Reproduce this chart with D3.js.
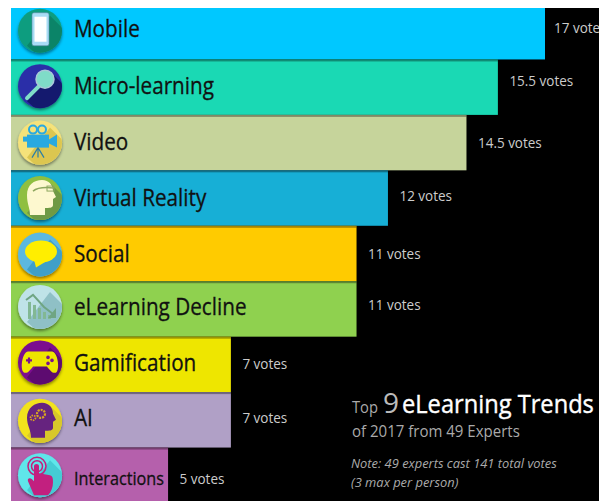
<!DOCTYPE html>
<html>
<head>
<meta charset="utf-8">
<script src="https://cdn.jsdelivr.net/npm/d3@7"></script>
<style>
html, body { margin: 0; padding: 0; background: #fff; overflow: hidden; }
svg { display: block; }
text { font-family: "Open Sans", "Noto Sans", sans-serif; }
</style>
</head>
<body>
<script>
var categories = ["Mobile", "Micro-learning", "Video", "Virtual Reality", "Social", "eLearning Decline", "Gamification", "AI", "Interactions"];
var votes = [17, 15.5, 14.5, 12, 11, 11, 7, 7, 5];
var voteLabels = ["17 votes", "15.5 votes", "14.5 votes", "12 votes", "11 votes", "11 votes", "7 votes", "7 votes", "5 votes"];
var barColors = ["#00c8ff", "#1ad9b4", "#c6d49b", "#17afd6", "#ffcb00", "#8fd14f", "#eee600", "#b0a0c6", "#b560ac"];
var circleColors = ["#0f9d7f", "#2b2fa8", "#f5e27a", "#8fbf3f", "#5cb8e0", "#bfe3e8", "#7b0f8f", "#f2e21a", "#5fe6ea"];
var shadowColors = ["#0b8468", "#14196e", "#dcc650", "#6f9a45", "#3f9fc8", "#8fc0c6", "#5d0b70", "#d8c82a", "#45ccd4"];

// the rows of the original are not quite even
var nameNudge = [-3, -1, -1, 0, 0, -2, -1, -2, 3];
var voteNudge = [-4, -6, 0, -2, 0, -4, -1, -2, 3];
var iconNudge = [-1, -1, 0, 0, 1, -2, -2, 1, 0];

var width = 599, height = 501;
var left = 11, top_ = 8;
var squeeze = 0.9;

var x = d3.scaleLinear().domain([0, 17]).range([left, 545]);
var y = d3.scaleBand().domain(categories).range([4, 503]);
var color = d3.scaleOrdinal().domain(categories).range(barColors);

var svg = d3.select("body").append("svg")
    .attr("width", width)
    .attr("height", height);

var defs = svg.append("defs");

defs.append("filter").attr("id", "iconShadow")
    .attr("x", "-30%").attr("y", "-30%").attr("width", "160%").attr("height", "160%")
    .append("feDropShadow")
    .attr("dx", 0).attr("dy", 2).attr("stdDeviation", 1.5)
    .attr("flood-color", "#000").attr("flood-opacity", 0.45);

defs.append("clipPath").attr("id", "iconClip")
    .append("circle").attr("r", 22);

defs.append("clipPath").attr("id", "plotClip")
    .append("rect").attr("x", left).attr("y", top_).attr("width", width - left).attr("height", height - top_);

var plot = svg.append("g").attr("clip-path", "url(#plotClip)");

plot.append("rect")
    .attr("x", left).attr("y", top_)
    .attr("width", width - left).attr("height", height - top_)
    .attr("fill", "#000");

var rows = plot.selectAll(".row")
    .data(categories)
    .enter().append("g")
    .attr("class", "row");

rows.append("rect")
    .attr("x", left)
    .attr("y", function(d){ return y(d); })
    .attr("width", function(d, i){ return x(votes[i]) - left; })
    .attr("height", y.bandwidth())
    .attr("fill", function(d){ return color(d); });

// dark line left by the row above
rows.filter(function(d, i){ return i > 0; }).append("rect")
    .attr("x", left)
    .attr("y", function(d){ return y(d); })
    .attr("width", function(d, i){ return x(votes[i + 1]) - left; })
    .attr("height", 2)
    .attr("fill", "#000")
    .attr("opacity", 0.35);

rows.append("text")
    .attr("transform", function(d, i){
        return "translate(74," + (y(d) + y.bandwidth() / 2 + nameNudge[i]) + ") scale(" + squeeze + ",1)";
    })
    .attr("dy", "0.35em")
    .attr("font-size", function(d){ return d == "Interactions" ? 18 : 23; })
    .attr("fill", "#111")
    .attr("stroke", "#111")
    .attr("stroke-width", 0.3)
    .text(function(d){ return d; });

rows.append("text")
    .attr("transform", function(d, i){
        var gap = i == 0 ? 9 : 11.5;
        return "translate(" + (x(votes[i]) + gap) + "," + (y(d) + y.bandwidth() / 2 + voteNudge[i]) + ") scale(" + squeeze + ",1)";
    })
    .attr("dy", "0.35em")
    .attr("font-size", 15)
    .attr("fill", "#ccc")
    .text(function(d, i){ return voteLabels[i]; });

var iconDraw = [iconMobile, iconSearch, iconCamera, iconHead, iconBubble, iconDecline, iconPad, iconBrain, iconHand];

var icons = rows.append("g")
    .attr("transform", function(d, i){ return "translate(40," + (y(d) + y.bandwidth() / 2 + iconNudge[i]) + ")"; });

icons.each(function(d, i){
    var g = d3.select(this);
    g.append("circle").attr("r", 22).attr("fill", circleColors[i]).attr("filter", "url(#iconShadow)");
    g.append("path")
        .attr("clip-path", "url(#iconClip)")
        .attr("d", "M-13,15L10,-15L40,15L15,40Z")
        .attr("fill", shadowColors[i]);
    iconDraw[i](g);
});

function iconMobile(g){
    g.append("rect").attr("x", -8).attr("y", -18).attr("width", 17).attr("height", 33).attr("rx", 2).attr("fill", "#a8dcf5").attr("stroke", "#5a8ca5").attr("stroke-width", 0.6);
    g.append("rect").attr("x", -5.5).attr("y", -14).attr("width", 12).attr("height", 25).attr("fill", "#fff");
}

function iconSearch(g){
    g.append("line").attr("x1", -13).attr("y1", 12).attr("x2", 0).attr("y2", -1).attr("stroke", "#7fdcc8").attr("stroke-width", 4).attr("stroke-linecap", "round");
    g.append("circle").attr("cx", 5).attr("cy", -7).attr("r", 9).attr("fill", "#7fdcc8").attr("stroke", "#a9c8d8").attr("stroke-width", 1.5);
}

function iconCamera(g){
    g.append("circle").attr("cx", -7).attr("cy", -13).attr("r", 4).attr("fill", "none").attr("stroke", "#29a9e0").attr("stroke-width", 2);
    g.append("circle").attr("cx", 2).attr("cy", -13).attr("r", 4).attr("fill", "none").attr("stroke", "#29a9e0").attr("stroke-width", 2);
    g.append("rect").attr("x", -13).attr("y", -8).attr("width", 22).attr("height", 13).attr("fill", "#29a9e0");
    g.append("path").attr("d", "M9,-3L17,-8V5L9,1Z").attr("fill", "#29a9e0");
    g.append("path").attr("d", "M-17,-6H-13V-1H-17Z").attr("fill", "#29a9e0");
    g.append("path").attr("d", "M-2,5L-8,15M-2,5V15M-2,5L4,15").attr("stroke", "#2a7fa8").attr("stroke-width", 1.2).attr("fill", "none");
}

function iconHead(g){
    g.append("path")
        .attr("d", "M-10,17C-10,10 -13,6 -13,-3C-13,-13 -6,-18 2,-18C9,-18 13,-13 13,-7L16,-1L13,1V7C13,10 9,10 5,10V17Z")
        .attr("fill", "#fdf8cf");
    g.append("path").attr("d", "M-7,-7C-2,-11 6,-11 14,-10").attr("stroke", "#8fa860").attr("stroke-width", 1.5).attr("fill", "none");
    g.append("rect").attr("x", 7).attr("y", -12).attr("width", 7).attr("height", 5).attr("fill", "none").attr("stroke", "#8fa860").attr("stroke-width", 1);
}

function iconBubble(g){
    g.append("ellipse").attr("cx", 1).attr("cy", -3).attr("rx", 16).attr("ry", 11).attr("fill", "#ffee00");
    g.append("path").attr("d", "M-6,5L-4,13L6,7Z").attr("fill", "#ffee00");
}

function iconDecline(g){
    var bars = [[-12, -5], [-7, -2], [-2, 1], [3, 5], [8, 8]];
    bars.forEach(function(b){
        g.append("rect").attr("x", b[0]).attr("y", b[1]).attr("width", 3).attr("height", 12 - b[1]).attr("fill", "#82b894");
    });
    g.append("path").attr("d", "M-14,-7L-7,-12L4,0L13,7").attr("stroke", "#6fa583").attr("stroke-width", 2).attr("fill", "none");
    g.append("path").attr("d", "M16,1V11H8Z").attr("fill", "#6fa583");
}

function iconPad(g){
    g.append("path")
        .attr("d", "M-12,-11H12C17,-11 20,4 17,9C14,13 10,8 7,4H-7C-10,8 -14,13 -17,9C-20,4 -17,-11 -12,-11Z")
        .attr("fill", "#eee600");
    g.append("path").attr("d", "M-11,-5V1M-14,-2H-8").attr("stroke", "#7b0f8f").attr("stroke-width", 2.2);
    g.append("circle").attr("cx", 8).attr("cy", -5).attr("r", 1.8).attr("fill", "#7b0f8f");
    g.append("circle").attr("cx", 12).attr("cy", -2).attr("r", 1.8).attr("fill", "#7b0f8f");
    g.append("circle").attr("cx", 8).attr("cy", 1).attr("r", 1.8).attr("fill", "#7b0f8f");
}

function iconBrain(g){
    g.append("path")
        .attr("d", "M-9,17C-9,9 -13,5 -13,-3C-13,-13 -5,-18 2,-18C9,-18 13,-13 13,-7L16,-1L13,1V7C13,10 9,10 5,10V17Z")
        .attr("fill", "#66237f");
    g.append("circle").attr("cx", 1).attr("cy", -7).attr("r", 4).attr("fill", "none").attr("stroke", "#d9a520").attr("stroke-width", 2.2).attr("stroke-dasharray", "2 1");
    g.append("circle").attr("cx", -7).attr("cy", -3).attr("r", 2.5).attr("fill", "none").attr("stroke", "#d9a520").attr("stroke-width", 1.8).attr("stroke-dasharray", "1.5 1");
}

function iconHand(g){
    g.append("circle").attr("cx", -3).attr("cy", -9).attr("r", 9).attr("fill", "none").attr("stroke", "#c2207f").attr("stroke-width", 1.5);
    g.append("circle").attr("cx", -3).attr("cy", -9).attr("r", 5.5).attr("fill", "none").attr("stroke", "#c2207f").attr("stroke-width", 1.5);
    g.append("path")
        .attr("d", "M-6,-9C-6,-12 -1,-12 -1,-9V-2L10,0C13,1 13,4 13,7C13,12 11,17 8,20H-6L-12,6C-13,3 -10,2 -8,4L-6,6Z")
        .attr("fill", "#c2207f");
}

// squeezes a text to the width it has in the original
function fitText(sel, px, py, w){
    var len = sel.node().getComputedTextLength();
    sel.attr("transform", "translate(" + px + "," + py + ") scale(" + (w / len) + ",1)");
}

// note block bottom right
var txtTop = plot.append("text")
    .attr("font-size", 17).attr("fill", "#aaa")
    .text("Top");
fitText(txtTop, 352, 413, 26);

plot.append("text").attr("x", 383).attr("y", 413)
    .attr("font-size", 28).attr("fill", "#bbb")
    .text("9");

var txtTrends = plot.append("text")
    .attr("font-size", 26).attr("fill", "#fff")
    .attr("stroke", "#fff").attr("stroke-width", 0.4)
    .text("eLearning Trends");
fitText(txtTrends, 402, 413, 192);

var txtSub = plot.append("text")
    .attr("font-size", 16.5).attr("fill", "#aaa")
    .text("of 2017 from 49 Experts");
fitText(txtSub, 352, 437, 168);

var note = plot.append("g")
    .attr("font-size", 12.9)
    .attr("font-style", "italic")
    .attr("fill", "#aaa");
note.append("text").attr("x", 351).attr("y", 468).text("Note: 49 experts cast 141 total votes");
note.append("text").attr("x", 351).attr("y", 487).text("(3 max per person)");
</script>
</body>
</html>
